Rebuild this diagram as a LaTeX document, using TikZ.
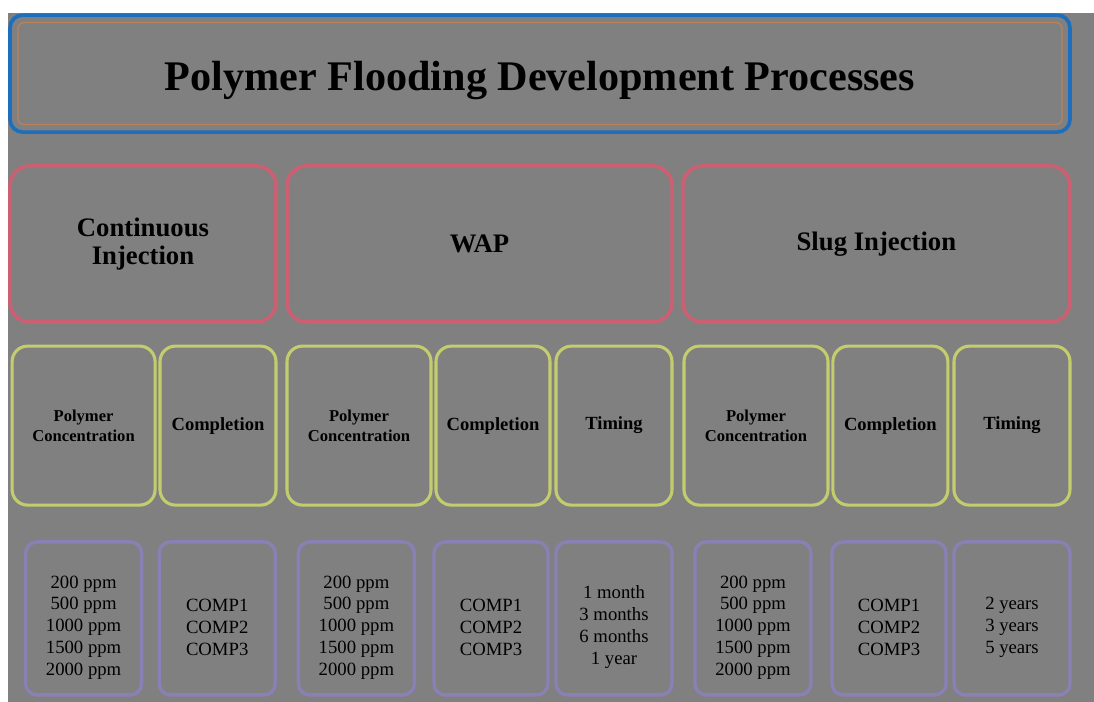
\documentclass[tikz,border=0pt]{standalone}
\usepackage{xcolor}
\usepackage{tikz}
\usepackage{fontspec}
\setmainfont{Liberation Serif}
\definecolor{bggray}{RGB}{128, 128, 128}
\definecolor{titleblue}{RGB}{30, 110, 190}
\definecolor{titleorange}{RGB}{185, 130, 90}
\definecolor{methodred}{RGB}{205, 95, 115}
\definecolor{factorlime}{RGB}{195, 205, 110}
\definecolor{valuepurple}{RGB}{138, 128, 182}
\usetikzlibrary{shapes,positioning,calc}
\newcommand{\valpad}{\rule{0pt}{22pt}}

\begin{document}
\begin{tikzpicture}[
    titlebox/.style={
        rectangle,
        rounded corners=9pt,
        minimum width=26.5cm,
        minimum height=2.925cm,
        align=center,
        font=\bfseries\fontsize{30}{34}\selectfont,
        draw=titleblue,
        line width=2.6pt
    },
    method/.style={
        rectangle,
        rounded corners=14pt,
        minimum height=3.9cm,
        align=center,
        font=\bfseries\fontsize{19}{20}\selectfont,
        draw=methodred,
        line width=2.6pt
    },
    factor/.style={
        rectangle,
        rounded corners=11pt,
        minimum height=3.975cm,
        align=center,
        font=\bfseries\fontsize{13.2}{15}\selectfont,
        draw=factorlime,
        line width=2.2pt
    },
    conc/.style={factor, font=\bfseries\fontsize{11.8}{14.5}\selectfont},
    values/.style={
        rectangle,
        rounded corners=8pt,
        minimum width=2.9cm,
        minimum height=3.825cm,
        align=center,
        font=\fontsize{13.3}{15.6}\selectfont,
        draw=valuepurple,
        line width=2.4pt
    }
]
    % Page and background
    \useasboundingbox (0,0) rectangle (27.35,-17.55);
    \fill[white] (0,0) rectangle (27.35,-17.55);
    \fill[bggray] (0.2,-0.33) rectangle (27.35,-17.55);

    % Title
    \node[titlebox] (title) at (13.5,-1.84) {\rule{0pt}{30pt}Polymer Flooding Development Processes};
    \node[rectangle, rounded corners=4pt, minimum width=26.1cm, minimum height=2.55cm,
          draw=titleorange, line width=0.9pt] (titlein) at (13.5,-1.84) {};

    % Injection methods
    \node[method, minimum width=6.65cm] (cont) at (3.575,-6.1) {Continuous\\Injection};
    \node[method, minimum width=9.625cm] (wap) at (11.99,-6.1) {WAP};
    \node[method, minimum width=9.675cm] (slug) at (21.91,-6.1) {Slug Injection};

    % Design factors
    \node[conc, minimum width=3.575cm] (contconc) at (2.09,-10.64) {Polymer\\Concentration};
    \node[factor, minimum width=2.9cm] (contcomp) at (5.45,-10.64) {Completion};
    \node[conc, minimum width=3.6cm] (wapconc) at (8.975,-10.64) {Polymer\\Concentration};
    \node[factor, minimum width=2.85cm] (wapcomp) at (12.325,-10.64) {Completion};
    \node[factor, minimum width=2.9cm] (waptime) at (15.35,-10.64) {Timing};
    \node[conc, minimum width=3.6cm] (slugconc) at (18.9,-10.64) {Polymer\\Concentration};
    \node[factor, minimum width=2.875cm] (slugcomp) at (22.26,-10.64) {Completion};
    \node[factor, minimum width=2.9cm] (slugtime) at (25.3,-10.64) {Timing};

    % Values
    \node[values] (contconcv) at (2.09,-15.46) {\valpad 200 ppm\\500 ppm\\1000 ppm\\1500 ppm\\2000 ppm};
    \node[values] (contcompv) at (5.43,-15.46) {\valpad COMP1\\COMP2\\COMP3};
    \node[values] (wapconcv) at (8.91,-15.46) {\valpad 200 ppm\\500 ppm\\1000 ppm\\1500 ppm\\2000 ppm};
    \node[values, minimum width=2.85cm] (wapcompv) at (12.275,-15.46) {\valpad COMP1\\COMP2\\COMP3};
    \node[values] (waptimev) at (15.35,-15.46) {\valpad 1 month\\3 months\\6 months\\1 year};
    \node[values] (slugconcv) at (18.825,-15.46) {\valpad 200 ppm\\500 ppm\\1000 ppm\\1500 ppm\\2000 ppm};
    \node[values, minimum width=2.85cm] (slugcompv) at (22.225,-15.46) {\valpad COMP1\\COMP2\\COMP3};
    \node[values] (slugtimev) at (25.3,-15.46) {\valpad 2 years\\3 years\\5 years};
\end{tikzpicture}
\end{document}
